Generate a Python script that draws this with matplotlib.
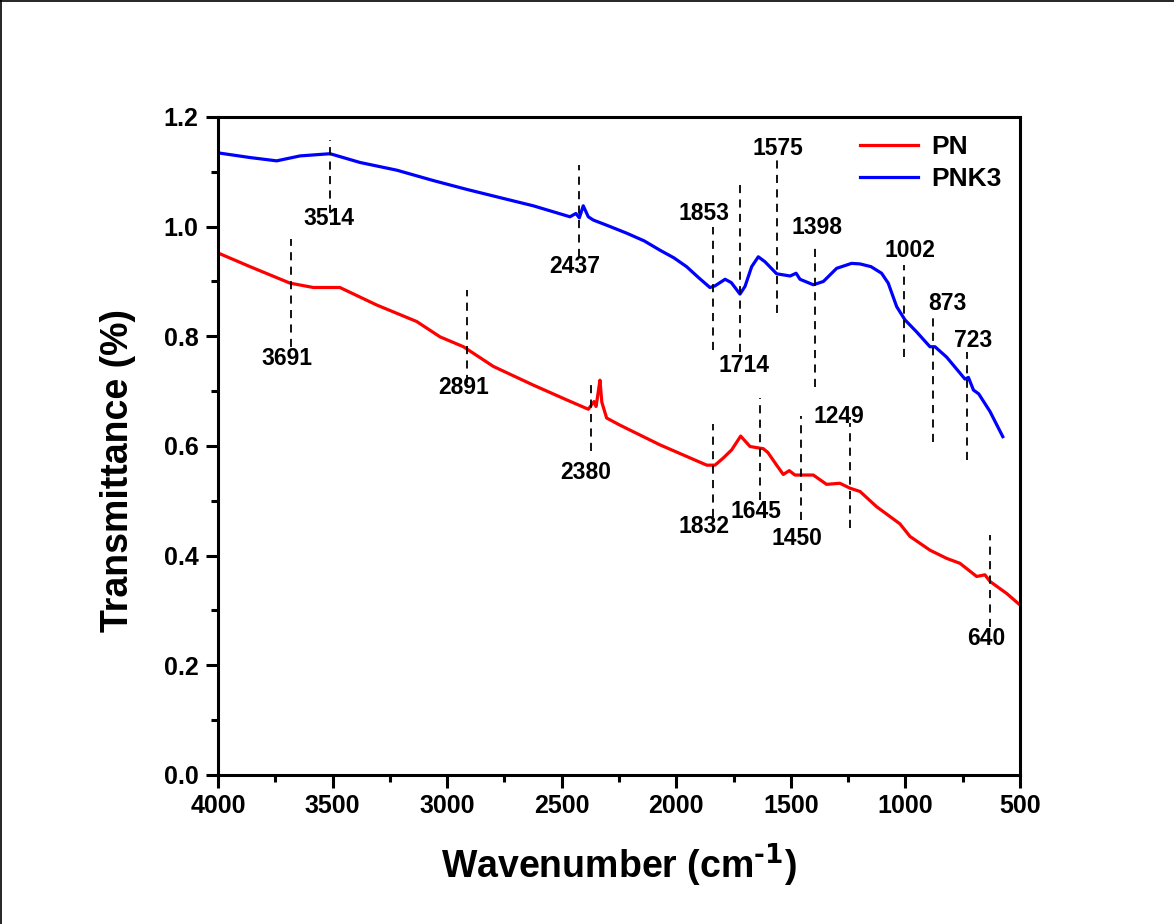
import numpy as np
import matplotlib.pyplot as plt
from matplotlib.lines import Line2D

plt.rcParams['font.family'] = ['Liberation Sans', 'DejaVu Sans']
plt.rcParams['font.weight'] = 'bold'
plt.rcParams['mathtext.default'] = 'regular'

# PNK3 (blue) spectrum
pnk3_x = [4000, 3991, 3860, 3744, 3642, 3511, 3380, 3220, 3060, 2915, 2770, 2624, 2464,
          2438, 2423, 2406, 2384, 2362, 2300, 2216, 2140, 2071, 2010, 1955, 1900, 1853,
          1831, 1787, 1760, 1722, 1700, 1671, 1642, 1613, 1562, 1503, 1477, 1460, 1402,
          1358, 1300, 1235, 1198, 1150, 1104, 1075, 1038, 1002, 951, 893, 871, 820, 740,
          725, 703, 680, 631, 575]
pnk3_y = [1.135, 1.134, 1.126, 1.120, 1.129, 1.133, 1.117, 1.103, 1.084, 1.068, 1.053, 1.038, 1.018,
          1.024, 1.016, 1.038, 1.018, 1.012, 1.002, 0.988, 0.974, 0.957, 0.943, 0.927, 0.906, 0.889,
          0.892, 0.904, 0.898, 0.877, 0.891, 0.927, 0.945, 0.936, 0.914, 0.910, 0.915, 0.904, 0.894,
          0.900, 0.924, 0.933, 0.932, 0.927, 0.915, 0.897, 0.854, 0.830, 0.808, 0.781, 0.781, 0.762, 0.722,
          0.725, 0.702, 0.695, 0.663, 0.617]

# PN (red) spectrum
pn_x = [4000, 3860, 3686, 3584, 3468, 3307, 3133, 3031, 2929, 2798, 2624, 2478, 2384,
        2359, 2350, 2340, 2333, 2325, 2304, 2246, 2071, 1867, 1831, 1795, 1758, 1719,
        1678, 1620, 1600, 1562, 1533, 1507, 1482, 1402, 1344, 1286, 1242, 1198, 1125,
        1024, 980, 893, 820, 762, 689, 653, 631, 558, 500]
pn_y = [0.952, 0.927, 0.897, 0.889, 0.889, 0.857, 0.827, 0.799, 0.781, 0.745, 0.711, 0.684, 0.667,
        0.681, 0.672, 0.700, 0.720, 0.680, 0.651, 0.638, 0.602, 0.565, 0.565, 0.578, 0.593, 0.618,
        0.599, 0.595, 0.588, 0.565, 0.548, 0.555, 0.547, 0.547, 0.530, 0.532, 0.523, 0.517, 0.489,
        0.458, 0.435, 0.410, 0.395, 0.386, 0.362, 0.365, 0.353, 0.331, 0.310]

# peak markers: label, line position, line bottom/top, label position
peak_labels = ['3514', '3691', '2891', '2437', '2380', '1853', '1714', '1575', '1398',
               '1002', '873', '723', '1832', '1645', '1450', '1249', '640']
peak_pos = [3511, 3681, 2915, 2425, 2374, 1840, 1721, 1560, 1396,
            1005, 878, 730, 1840, 1635, 1455, 1242, 631]
line_lo = [1.025, 0.781, 0.715, 0.945, 0.590, 0.775, 0.772, 0.842, 0.708,
           0.763, 0.608, 0.574, 0.471, 0.502, 0.465, 0.450, 0.270]
line_hi = [1.158, 0.978, 0.885, 1.113, 0.722, 0.999, 1.086, 1.128, 0.962,
           0.930, 0.835, 0.772, 0.640, 0.687, 0.655, 0.641, 0.438]
label_x = [3514, 3698, 2928, 2442, 2395, 1878, 1704, 1555, 1387,
           980, 817, 704, 1878, 1652, 1475, 1290, 648]
label_y = [1.014, 0.759, 0.706, 0.927, 0.551, 1.024, 0.746, 1.143, 0.999,
           0.956, 0.860, 0.792, 0.453, 0.480, 0.432, 0.653, 0.249]

fig = plt.figure(figsize=(11.74, 9.24), dpi=100)
ax = fig.add_axes([0.1857, 0.1613, 0.6831, 0.7121])

ax.plot(pn_x, pn_y, color='#ff0000', lw=2.3, label='PN')
ax.plot(pnk3_x, pnk3_y, color='#0000ff', lw=2.3, label='PNK3')

for lab, p, lo, hi, lx, ly in zip(peak_labels, peak_pos, line_lo, line_hi, label_x, label_y):
    ax.plot([p, p], [lo, hi], color='black', lw=1.3, linestyle=(0, (4.5, 3.5)))
    ax.text(lx, ly, lab, ha='center', va='center', fontsize=16.5, fontweight='bold')

ax.set_xlim(4000, 500)
ax.set_ylim(0, 1.2)
ax.set_xticks(np.arange(4000, 499, -500))
ax.set_xticks(np.arange(3750, 500, -500), minor=True)
ax.set_yticks(np.arange(0, 1.21, 0.2))
ax.set_yticks(np.arange(0.1, 1.2, 0.2), minor=True)
ax.yaxis.set_major_formatter(plt.FormatStrFormatter('%.1f'))

for s in ax.spines.values():
    s.set_linewidth(2.2)
ax.tick_params(which='major', direction='out', length=9, width=2.2, labelsize=18, pad=5)
ax.tick_params(which='minor', direction='out', length=5, width=2.2)
for t in ax.get_xticklabels() + ax.get_yticklabels():
    t.set_fontweight('bold')

ax.set_xlabel('Wavenumber (cm$^{\\text{-1}}$)', fontsize=27, fontweight='bold')
ax.set_ylabel('Transmittance (%)', fontsize=27, fontweight='bold')
ax.xaxis.set_label_coords(0.5, -0.101)
ax.yaxis.set_label_coords(-0.102, 0.462)

ax.legend(loc='upper right', frameon=False, handlelength=2.2, handletextpad=0.5,
          borderaxespad=0.3, labelspacing=0.3, prop={'weight': 'bold', 'size': 19})

# thin frame on the left and top edge of the picture
fig.add_artist(Line2D([0.0008, 0.0008], [0, 1], color='black', lw=1.2, transform=fig.transFigure))
fig.add_artist(Line2D([0, 1], [0.999, 0.999], color='black', lw=1.2, transform=fig.transFigure))

fig.savefig('out.png', dpi=100)
